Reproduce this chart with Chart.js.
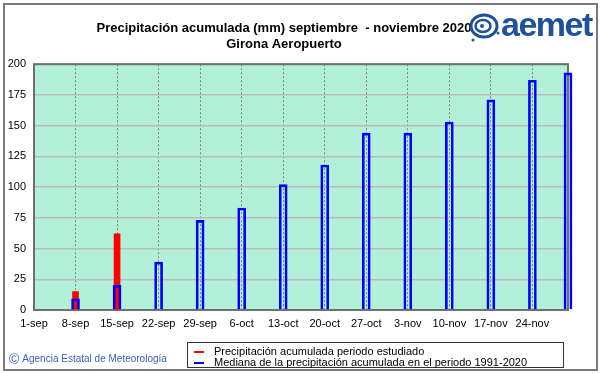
<!DOCTYPE html>
<html>
<head>
<meta charset="utf-8">
<script src="https://cdn.jsdelivr.net/npm/chart.js@4.4.1/dist/chart.umd.min.js"></script>
<style>
  html, body { margin: 0; padding: 0; background: #fff; }
  #wrap { position: relative; width: 601px; height: 374px; overflow: hidden; font-family: "Liberation Sans", Arial, sans-serif; }
  #frame { position: absolute; left: 3px; top: 3px; width: 595px; height: 368px; box-sizing: border-box; border: 2px solid #7a7a7a; }
  #chart { position: absolute; left: 0; top: 0; }
  #logo { position: absolute; left: 468px; top: 8px; width: 128px; height: 40px; }
  #logo .txt { position: absolute; left: 33px; top: -3px; font: bold 34px "Liberation Sans", Arial, sans-serif; color: #1f4f9f; letter-spacing: -1.5px; }
  #legend { position: absolute; left: 187px; top: 342px; width: 377px; height: 26px; box-sizing: border-box; border: 1px solid #333; background: #fff; font-size: 11px; }
  #legend .item { position: absolute; left: 6px; height: 12px; line-height: 12px; white-space: nowrap; }
  #legend .sw { display: inline-block; width: 10px; height: 2px; vertical-align: middle; margin-right: 10px; }
  #footer { position: absolute; left: 9px; top: 351px; font-size: 10px; color: #3a5cc8; white-space: nowrap; }
  #footer .c { font-size: 14px; vertical-align: -2px; margin-right: 3px; }
</style>
</head>
<body>
<div id="wrap">
  <div id="frame"></div>
  <canvas id="chart" width="601" height="374"></canvas>
  <div id="logo">
    <svg width="32" height="34" viewBox="0 0 32 34" style="position:absolute;left:0;top:2px">
      <ellipse cx="16" cy="16" rx="13" ry="11" fill="none" stroke="#1f4f9f" stroke-width="3"/>
      <ellipse cx="15" cy="16" rx="7.5" ry="6" fill="none" stroke="#1f4f9f" stroke-width="2.5"/>
      <circle cx="14" cy="16" r="2" fill="#1f4f9f"/>
      <circle cx="5" cy="30" r="1.5" fill="#1f4f9f"/>
      <circle cx="30" cy="23" r="1.5" fill="#1f4f9f"/>
    </svg>
    <div class="txt">aemet</div>
  </div>
  <div id="legend"></div>
  <div id="footer"><span class="c">©</span>Agencia Estatal de Meteorología</div>
</div>
<script>
// Axis labels (days counted from 1-sep)
const tickDays = [0, 7, 14, 21, 28, 35, 42, 49, 56, 63, 70, 77, 84];
const tickLabels = ['1-sep', '8-sep', '15-sep', '22-sep', '29-sep', '6-oct', '13-oct', '20-oct', '27-oct', '3-nov', '10-nov', '17-nov', '24-nov'];
const yTicks = [0, 25, 50, 75, 100, 125, 150, 175, 200];

// Series
const seriesNames = ['Precipitación acumulada periodo estudiado', 'Mediana de la precipitación acumulada en el periodo 1991-2020'];
const observedDays = [7, 14];
const observedValues = [15, 62];
const medianDays = [7, 14, 21, 28, 35, 42, 49, 56, 63, 70, 77, 84, 90];
const medianValues = [9, 20, 39, 73, 83, 102, 118, 144, 144, 153, 171, 187, 193];

const seriesColors = ['#ff0000', '#0000ff'];

// Plot background and frame
const plotBox = {
  id: 'plotBox',
  beforeDraw(chart) {
    const { ctx, chartArea: a } = chart;
    ctx.save();
    ctx.fillStyle = '#b2f0da';
    ctx.fillRect(a.left, a.top, a.right - a.left, a.bottom - a.top);
    ctx.restore();
  },
  beforeDatasetsDraw(chart) {
    const { ctx, chartArea: a } = chart;
    ctx.save();
    ctx.strokeStyle = '#707070';
    ctx.lineWidth = 2;
    ctx.strokeRect(a.left, a.top, a.right - a.left, a.bottom - a.top);
    ctx.restore();
  }
};

const chart = new Chart(document.getElementById('chart'), {
  type: 'bar',
  data: {
    datasets: [
      {
        label: seriesNames[0],
        data: observedDays.map((d, i) => ({ x: d, y: observedValues[i] })),
        backgroundColor: seriesColors[0],
        borderWidth: 0,
        barThickness: 6,
        clip: false,
        order: 1
      },
      {
        label: seriesNames[1],
        data: medianDays.map((d, i) => ({ x: d, y: medianValues[i] })),
        backgroundColor: 'rgba(0,0,0,0)',
        borderColor: seriesColors[1],
        borderWidth: 2,
        barThickness: 8,
        clip: false,
        order: 0
      }
    ]
  },
  options: {
    responsive: false,
    animation: false,
    layout: { padding: { left: 0, right: 33, top: 0, bottom: 0 } },
    datasets: { bar: { grouped: false } },
    plugins: {
      legend: { display: false },
      tooltip: { enabled: false },
      title: {
        display: true,
        text: ['Precipitación acumulada (mm) septiembre  - noviembre 2020', 'Girona Aeropuerto'],
        color: '#000',
        font: { family: '"Liberation Sans", Arial, sans-serif', size: 13, weight: 'bold', lineHeight: 1.24 },
        padding: { top: 20, bottom: 12 }
      }
    },
    scales: {
      x: {
        type: 'linear',
        min: 0,
        max: 90,
        offset: false,
        afterBuildTicks: (scale) => { scale.ticks = tickDays.map(v => ({ value: v })); },
        afterFit: (scale) => { scale.height = 64; },
        ticks: {
          autoSkip: false,
          maxRotation: 0,
          padding: 7,
          color: '#000',
          font: { family: '"Liberation Sans", Arial, sans-serif', size: 11 },
          callback: (v) => tickLabels[tickDays.indexOf(v)]
        },
        grid: { offset: false, color: '#808080', lineWidth: 1, drawTicks: false },
        border: { display: false, dash: [2, 2] }
      },
      y: {
        min: 0,
        max: 200,
        afterBuildTicks: (scale) => { scale.ticks = yTicks.map(v => ({ value: v })); },
        afterFit: (scale) => { scale.width = 34; },
        ticks: {
          padding: 8,
          color: '#000',
          font: { family: '"Liberation Sans", Arial, sans-serif', size: 11 }
        },
        grid: { color: '#bdb8bd', lineWidth: 1.5, drawTicks: false },
        border: { display: false }
      }
    }
  },
  plugins: [plotBox]
});

// Legend box under the chart
const legend = document.getElementById('legend');
seriesNames.forEach((name, i) => {
  const item = document.createElement('div');
  item.className = 'item';
  item.style.top = (i === 0 ? 2 : 13) + 'px';
  item.innerHTML = `<span class="sw" style="background:${seriesColors[i]}"></span>${name}`;
  legend.appendChild(item);
});
</script>
</body>
</html>
